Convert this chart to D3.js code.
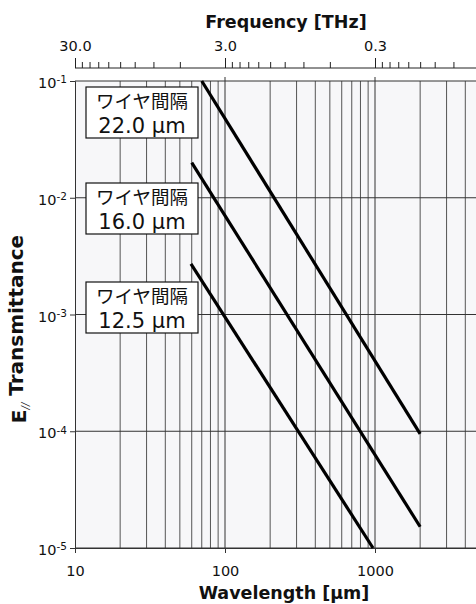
<!DOCTYPE html>
<html><head><meta charset="utf-8">
<script src="https://cdn.jsdelivr.net/npm/d3@7"></script>
<style>
body{margin:0;background:#fff;}
text{font-family:"DejaVu Sans","Noto Sans CJK JP",sans-serif;fill:#111;}
</style></head>
<body><svg id="c" width="476" height="604"></svg>
<script>
// Data
const wavelengthTicks = [10, 100, 1000];
const yExponents = [-1, -2, -3, -4, -5];
const freqMajor = [30, 3, 0.3];
const freqMinorSteps = [1,2,3,4,5,6,7,8,9,10]; // multiples of 0.3 * 10^n
const seriesNames = ["22.0 µm", "16.0 µm", "12.5 µm"];
const series22 = [{w:70, t:0.1}, {w:2000, t:9.5e-5}];
const series16 = [{w:60, t:0.02}, {w:2000, t:1.52e-5}];
const series125 = [{w:59.3, t:2.71e-3}, {w:970, t:1e-5}];
const labelPrefix = "ワイヤ間隔";

const svg = d3.select("#c");
const L = 75, T = 81, B = 548;
const x = d3.scaleLog().domain([10, 10000]).range([L, L + 450]);
const y = d3.scaleLog().domain([1e-5, 1e-1]).range([B, T]);
const f = d3.scaleLog().domain([30, 0.03]).range([L, L + 450]);

// plot background
svg.append("rect").attr("x", L).attr("y", T).attr("width", 476 - L).attr("height", B - T).attr("fill", "#f7f7f9");

// vertical grid lines
const vgrid = [];
[10, 100, 1000].forEach(d => { for (let k = 2; k <= 9; k++) vgrid.push(d * k); });
svg.append("g").selectAll("line").data(vgrid).join("line")
  .attr("x1", d => x(d)).attr("x2", d => x(d)).attr("y1", T).attr("y2", B)
  .attr("stroke", "#555").attr("stroke-width", 1);
svg.append("g").selectAll("line").data([100, 1000]).join("line")
  .attr("x1", d => x(d)).attr("x2", d => x(d)).attr("y1", T - 4).attr("y2", B)
  .attr("stroke", "#333").attr("stroke-width", 1);
// horizontal grid
svg.append("g").selectAll("line").data(yExponents).join("line")
  .attr("x1", L).attr("x2", 476).attr("y1", d => y(Math.pow(10, d))).attr("y2", d => y(Math.pow(10, d)))
  .attr("stroke", "#333").attr("stroke-width", 1);

// left axis
const yAxis = svg.append("g").attr("transform", `translate(${L},0)`)
  .call(d3.axisLeft(y).tickValues(yExponents.map(e => Math.pow(10, e))).tickSize(5).tickPadding(3).tickFormat(""));
yAxis.select(".domain").attr("stroke", "#333");
yAxis.selectAll(".tick line").attr("stroke", "#333");
yAxis.selectAll(".tick").each(function(d) {
  const e = Math.round(Math.log10(d));
  const t = d3.select(this).append("text").attr("x", -8).attr("dy", "0.45em")
    .attr("text-anchor", "end").style("font-size", "14.5px").attr("fill", "#111");
  t.append("tspan").text("10");
  t.append("tspan").attr("dy", "-0.45em").style("font-size", "10.5px").text(String(e));
});

// bottom axis
const xAxis = svg.append("g").attr("transform", `translate(0,${B})`)
  .call(d3.axisBottom(x).tickValues(wavelengthTicks).tickSize(5).tickPadding(13).tickFormat(d3.format("d")));
xAxis.select(".domain").attr("stroke", "#333");
xAxis.selectAll(".tick line").attr("stroke", "#333");
xAxis.selectAll("text").style("font-size", "14.5px").attr("fill", "#111");

// top frequency axis
const topY = 68;
const fMinor = [];
[10, 1, 0.1].forEach(dec => freqMinorSteps.forEach(k => fMinor.push(+(0.3 * k * dec).toPrecision(3))));
const fm = svg.append("g").attr("transform", `translate(0,${topY})`)
  .call(d3.axisTop(f).tickValues(fMinor).tickSize(6).tickSizeOuter(0).tickFormat(""));
fm.select(".domain").attr("d", `M${L},0H476`).attr("stroke", "#222");
fm.selectAll(".tick line").attr("stroke", "#222");
const fM = svg.append("g").attr("transform", `translate(0,${topY})`)
  .call(d3.axisTop(f).tickValues(freqMajor).tickSize(10).tickPadding(7).tickFormat(d3.format(".1f")));
fM.select(".domain").remove();
fM.selectAll(".tick line").attr("stroke", "#222");
fM.selectAll("text").style("font-size", "14.5px").attr("fill", "#111");

// data lines
const line = d3.line().x(d => x(d.w)).y(d => y(d.t));
[series22, series16, series125].forEach(s => {
  svg.append("path").datum(s).attr("d", line).attr("fill", "none")
    .attr("stroke", "#000").attr("stroke-width", 3.2);
});

// label boxes
const boxTops = [87, 183, 282];
seriesNames.forEach((n, i) => {
  const g = svg.append("g");
  g.append("rect").attr("x", 86).attr("y", boxTops[i]).attr("width", 112).attr("height", 51)
    .attr("fill", "#fff").attr("stroke", "#111").attr("stroke-width", 1.2);
  g.append("text").attr("x", 142).attr("y", boxTops[i] + 21).attr("text-anchor", "middle")
    .style("font-size", "18.5px").style("font-family", "'Noto Sans CJK JP',sans-serif").text(labelPrefix);
  g.append("text").attr("x", 142).attr("y", boxTops[i] + 46).attr("text-anchor", "middle")
    .style("font-size", "21px").text(n);
});

// titles
svg.append("text").attr("x", 286).attr("y", 28).attr("text-anchor", "middle")
  .style("font-size", "17.5px").style("font-weight", "bold").text("Frequency [THz]");
svg.append("text").attr("x", 284).attr("y", 599).attr("text-anchor", "middle")
  .style("font-size", "17.5px").style("font-weight", "bold").text("Wavelength [µm]");
const yt = svg.append("text").attr("transform", "translate(26,329) rotate(-90)").attr("text-anchor", "middle")
  .style("font-size", "20px").style("font-weight", "bold");
yt.append("tspan").text("E");
yt.append("tspan").attr("dy", "0.3em").style("font-size", "10px").style("font-style", "italic").style("font-weight", "normal").text("//");
yt.append("tspan").attr("dy", "-0.3em").text(" Transmittance");
</script></body></html>
